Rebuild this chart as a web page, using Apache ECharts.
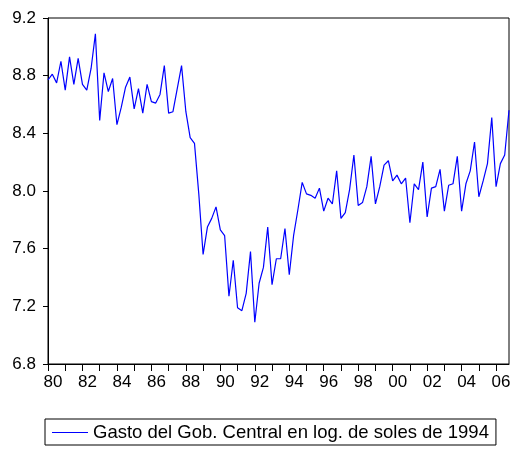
<!DOCTYPE html>
<html>
<head>
<meta charset="utf-8">
<script src="https://cdn.jsdelivr.net/npm/echarts@6/dist/echarts.min.js"></script>
<style>
  html, body { margin: 0; padding: 0; background: #fff; }
  #chart { width: 514px; height: 450px; }
</style>
</head>
<body>
<div id="chart"></div>
<script>
// años y trimestres (1980Q1 - 2006Q4)
var years = [1980, 1981, 1982, 1983, 1984, 1985, 1986, 1987, 1988, 1989,
             1990, 1991, 1992, 1993, 1994, 1995, 1996, 1997, 1998, 1999,
             2000, 2001, 2002, 2003, 2004, 2005, 2006];
var quarters = ['Q1', 'Q2', 'Q3', 'Q4'];

// gasto del gobierno central, log de soles de 1994
var gasto = [
  8.77, 8.81, 8.75, 8.90,   // 80
  8.70, 8.93, 8.74, 8.92,   // 81
  8.74, 8.70, 8.85, 9.09,   // 82
  8.49, 8.82, 8.69, 8.78,   // 83
  8.46, 8.58, 8.72, 8.79,   // 84
  8.57, 8.71, 8.54, 8.74,   // 85
  8.62, 8.61, 8.67, 8.87,   // 86
  8.54, 8.55, 8.71, 8.87,   // 87
  8.55, 8.37, 8.33, 7.98,   // 88
  7.56, 7.75, 7.81, 7.89,   // 89
  7.73, 7.69, 7.27, 7.52,   // 90
  7.19, 7.17, 7.29, 7.58,   // 91
  7.09, 7.36, 7.47, 7.75,   // 92
  7.35, 7.53, 7.53, 7.74,   // 93
  7.42, 7.69, 7.87, 8.06,   // 94
  7.98, 7.97, 7.95, 8.02,   // 95
  7.86, 7.95, 7.91, 8.14,   // 96
  7.81, 7.85, 8.01, 8.25,   // 97
  7.90, 7.92, 8.03, 8.24,   // 98
  7.91, 8.03, 8.18, 8.21,   // 99
  8.07, 8.11, 8.05, 8.09,   // 00
  7.78, 8.05, 8.01, 8.20,   // 01
  7.82, 8.02, 8.03, 8.15,   // 02
  7.86, 8.04, 8.05, 8.24,   // 03
  7.86, 8.05, 8.14, 8.34,   // 04
  7.96, 8.07, 8.19, 8.51,   // 05
  8.03, 8.19, 8.25, 8.56    // 06
];

var yTicks = [6.8, 7.2, 7.6, 8.0, 8.4, 8.8, 9.2];
var serieName = 'Gasto del Gob. Central en log. de soles de 1994';

var periodos = [];
years.forEach(function (y) {
  quarters.forEach(function (q) { periodos.push(y + q); });
});

var fuente = 'Liberation Sans, Arial, sans-serif';
var chart = echarts.init(document.getElementById('chart'));

var option = {
  animation: false,
  backgroundColor: '#fff',
  textStyle: { fontFamily: fuente, color: '#000' },
  grid: {
    left: 48, right: 5, top: 18, bottom: 86,
    show: true, borderColor: '#000', borderWidth: 1,
    containLabel: false
  },
  legend: {
    data: [serieName],
    left: 45, top: 419,
    padding: [4, 7, 3, 7],
    borderColor: '#000', borderWidth: 1,
    icon: 'rect', itemWidth: 36, itemHeight: 1,
    textStyle: { fontSize: 18.5, color: '#000', fontFamily: fuente }
  },
  xAxis: {
    type: 'category',
    data: periodos,
    boundaryGap: false,
    axisLine: { lineStyle: { color: '#000', width: 1 } },
    axisTick: {
      inside: false, length: 7,
      interval: function (i) { return i % 4 === 0; },
      lineStyle: { color: '#000' }
    },
    axisLabel: {
      interval: function (i) { return i % 8 === 0; },
      formatter: function (v) { return v.substr(2, 2); },
      fontSize: 17, color: '#000', margin: 10,
      padding: [0, 0, 0, 10]
    },
    splitLine: { show: false }
  },
  yAxis: {
    type: 'value',
    min: yTicks[0], max: yTicks[yTicks.length - 1], interval: 0.4,
    axisLine: { show: true, lineStyle: { color: '#000', width: 1 } },
    axisTick: { show: true, inside: false, length: 5, lineStyle: { color: '#000' } },
    axisLabel: {
      fontSize: 17, color: '#000', margin: 12,
      formatter: function (v) { return v.toFixed(1); }
    },
    splitLine: { show: false }
  },
  series: [{
    name: serieName,
    type: 'line',
    data: gasto,
    symbol: 'none',
    lineStyle: { color: '#0000ff', width: 1.2 },
    itemStyle: { color: '#0000ff' }
  }]
};

chart.setOption(option);
</script>
</body>
</html>
